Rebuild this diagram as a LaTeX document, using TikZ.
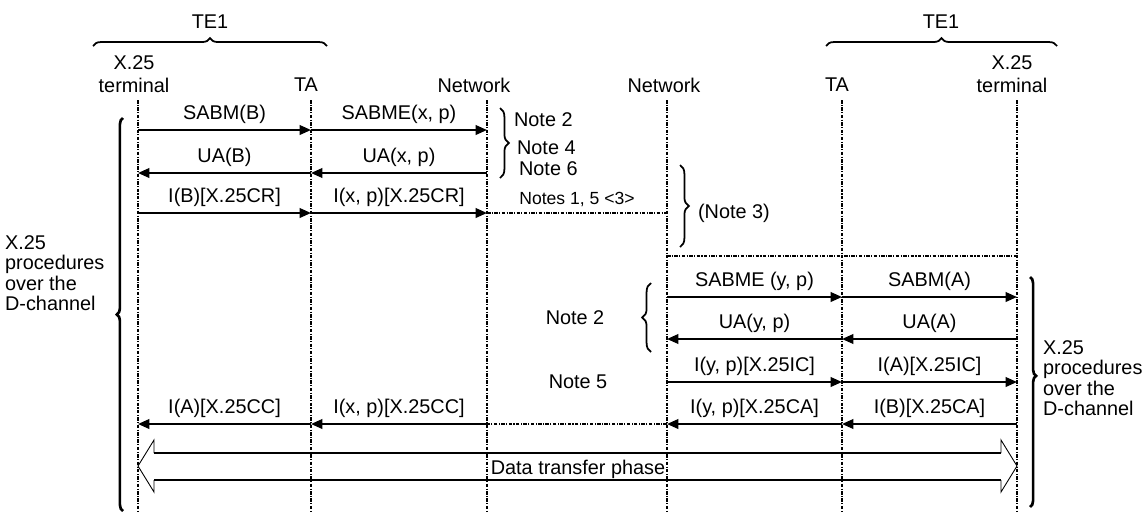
\documentclass[tikz,border=0pt]{standalone}
\usepackage{fontspec}
\setmainfont{Liberation Sans}
\usetikzlibrary{arrows.meta,decorations.pathreplacing}

\begin{document}
\begin{tikzpicture}[x=0.02cm, y=-0.02cm,
    every node/.style={font=\fontsize{11.3}{13}\selectfont, inner sep=1pt},
    lifeline/.style={line width=0.6pt, dash pattern=on 2pt off 0.8pt on 0.6pt off 0.8pt},
    msg/.style={line width=1.1pt, -{Triangle[length=6.5pt,width=5.5pt]}},
    lbl/.style={midway, above=2pt},
    brc/.style={decorate, decoration={brace, amplitude=#1}, line width=1pt},
    brc/.default=5pt,
    smallnote/.style={font=\fontsize{10}{12}\selectfont},
    proc/.style={anchor=west, align=left, font=\fontsize{11.3}{11.7}\selectfont}]
  \useasboundingbox (0,0) rectangle (1148,511);

  % lifelines
  \coordinate (tL) at (138,100);
  \coordinate (aL) at (311,100);
  \coordinate (nL) at (487,100);
  \coordinate (nR) at (667,100);
  \coordinate (aR) at (842,100);
  \coordinate (tR) at (1017,100);
  \coordinate (bot) at (0,511);
  \foreach \l in {tL,aL,nL,nR,aR,tR}
    \draw[lifeline] (\l) -- (\l |- bot);

  % rows
  \coordinate (r1) at (0,130);
  \coordinate (r2) at (0,173);
  \coordinate (r3) at (0,213);
  \coordinate (rd) at (0,256);
  \coordinate (r4) at (0,297);
  \coordinate (r5) at (0,339);
  \coordinate (r6) at (0,382);
  \coordinate (r7) at (0,424);

  % heads
  \node (teL) at (210,22) {TE1};
  \draw[brc=4.5pt] (93,46) -- (327,46);
  \node (teR) at (941,22) {TE1};
  \draw[brc=4.5pt] (826,46) -- (1057,46);
  \node[align=center] (hTL) at (134,74) {X.25\\terminal};
  \node (hAL) at (306,85) {TA};
  \node (hNL) at (474,85) {Network};
  \node (hNR) at (664,85) {Network};
  \node (hAR) at (837,85) {TA};
  \node[align=center] (hTR) at (1012,74) {X.25\\terminal};

  % left side: call request
  \draw[msg] (tL |- r1) -- node[lbl] (mSabmB) {SABM(B)} (aL |- r1);
  \draw[msg] (aL |- r1) -- node[lbl] (mSabmeX) {SABME(x, p)} (nL |- r1);
  \draw[msg] (aL |- r2) -- node[lbl] (mUaB) {UA(B)} (tL |- r2);
  \draw[msg] (nL |- r2) -- node[lbl] (mUaX) {UA(x, p)} (aL |- r2);
  \draw[msg] (tL |- r3) -- node[lbl] (mIB) {I(B)[X.25CR]} (aL |- r3);
  \draw[msg] (aL |- r3) -- node[lbl] (mIX) {I(x, p)[X.25CR]} (nL |- r3);
  \draw[lifeline] (nL |- r3) -- node[lbl,smallnote] (n15) {Notes 1, 5 <3>} (nR |- r3);

  \draw[brc] (500,108) -- (500,178);
  \node[anchor=west] (n2a) at (512,120) {Note 2};
  \node[anchor=west] (n4) at (515,148) {Note 4};
  \node[anchor=west] (n6) at (517,169) {Note 6};

  \draw[brc] (680,165) -- (680,247);
  \node[anchor=west] (n3) at (696,213) {(Note 3)};
  \draw[lifeline] (nR |- rd) -- (tR |- rd);

  % right side: incoming call
  \draw[brc] (651,352) -- (651,283);
  \node (n2b) at (575,318) {Note 2};
  \node (n5) at (578,382) {Note 5};
  \draw[msg] (nR |- r4) -- node[lbl] (mSabmeY) {SABME (y, p)} (aR |- r4);
  \draw[msg] (aR |- r4) -- node[lbl] (mSabmA) {SABM(A)} (tR |- r4);
  \draw[msg] (tR |- r5) -- node[lbl] (mUaA) {UA(A)} (aR |- r5);
  \draw[msg] (aR |- r5) -- node[lbl] (mUaY) {UA(y, p)} (nR |- r5);
  \draw[msg] (nR |- r6) -- node[lbl] (mIY) {I(y, p)[X.25IC]} (aR |- r6);
  \draw[msg] (aR |- r6) -- node[lbl] (mIA) {I(A)[X.25IC]} (tR |- r6);

  % call accepted back to the caller
  \draw[msg] (tR |- r7) -- node[lbl] (mIBca) {I(B)[X.25CA]} (aR |- r7);
  \draw[msg] (aR |- r7) -- node[lbl] (mIYca) {I(y, p)[X.25CA]} (nR |- r7);
  \draw[lifeline] (nR |- r7) -- (nL |- r7);
  \draw[msg] (nL |- r7) -- node[lbl] (mIXcc) {I(x, p)[X.25CC]} (aL |- r7);
  \draw[msg] (aL |- r7) -- node[lbl] (mIAcc) {I(A)[X.25CC]} (tL |- r7);

  % procedures braces
  \draw[brc=3.5pt, line width=1.5pt, decoration={aspect=0.5}] (123,511) -- (123,118);
  \node[proc] (pL) at (3,273) {X.25\\procedures\\over the\\D-channel};
  \draw[brc=3.5pt, line width=1.5pt, decoration={aspect=0.43}] (1030,277) -- (1030,507);
  \node[proc] (pR) at (1041,378) {X.25\\procedures\\over the\\D-channel};

  % data transfer phase
  \draw[line width=0.5pt] (154,453) -- (154,440) -- (138,466) -- (154,492) -- (154,480);
  \draw[line width=0.5pt] (1001,453) -- (1001,440) -- (1017,466) -- (1001,492) -- (1001,480);
  \draw[line width=1.1pt] (154,453) -- (1001,453) (154,480) -- (1001,480);
  \node (dtp) at (578,469) {Data transfer phase};
\end{tikzpicture}
\end{document}
